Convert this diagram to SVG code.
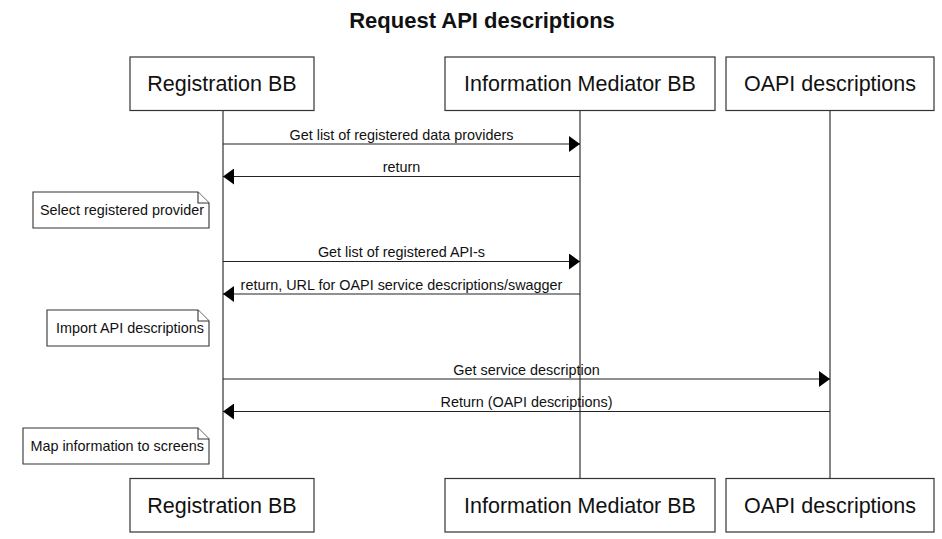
<svg xmlns="http://www.w3.org/2000/svg" width="942" height="539" viewBox="0 0 942 539">
<defs>
<style>
text{font-family:"Liberation Sans",Arial,sans-serif;fill:#111;}
.title{font-size:22px;font-weight:bold;text-anchor:middle;}
.box{fill:#fff;stroke:#333;stroke-width:1.2;}
.blabel{font-size:21.5px;text-anchor:middle;}
.life{stroke:#333;stroke-width:1.2;fill:none;}
.msg{stroke:#222;stroke-width:1.2;fill:none;}
.mlabel{font-size:14.4px;text-anchor:middle;}
.note{fill:#fff;stroke:#333;stroke-width:1.1;}
.nlabel{font-size:14.4px;text-anchor:end;}
</style>
<marker id="ah" viewBox="0 0 11 16" refX="11" refY="8" markerWidth="11" markerHeight="16" markerUnits="userSpaceOnUse" orient="auto">
<path d="M0,0 L11,8 L0,16 Z" fill="#000"/>
</marker>
</defs>
<rect width="942" height="539" fill="#fff"/>
<text class="title" x="482" y="28">Request API descriptions</text>

<g id="lifelines">
<line class="life" x1="223" y1="110.5" x2="223" y2="478.5"/>
<line class="life" x1="580" y1="110.5" x2="580" y2="478.5"/>
<line class="life" x1="830" y1="110.5" x2="830" y2="478.5"/>
</g>

<g id="registration-top">
<rect class="box" x="130" y="57" width="184" height="53.5"/>
<text class="blabel" x="222" y="91">Registration BB</text>
</g>
<g id="mediator-top">
<rect class="box" x="445" y="57" width="270" height="53.5"/>
<text class="blabel" x="580" y="91">Information Mediator BB</text>
</g>
<g id="oapi-top">
<rect class="box" x="726" y="57" width="208" height="53.5"/>
<text class="blabel" x="830" y="91">OAPI descriptions</text>
</g>

<g id="registration-bottom">
<rect class="box" x="130" y="478.5" width="184" height="53.5"/>
<text class="blabel" x="222" y="513">Registration BB</text>
</g>
<g id="mediator-bottom">
<rect class="box" x="445" y="478.5" width="270" height="53.5"/>
<text class="blabel" x="580" y="513">Information Mediator BB</text>
</g>
<g id="oapi-bottom">
<rect class="box" x="726" y="478.5" width="208" height="53.5"/>
<text class="blabel" x="830" y="513">OAPI descriptions</text>
</g>

<g id="connectors">
<line class="msg" x1="223" y1="144" x2="580" y2="144" marker-end="url(#ah)"/>
<text class="mlabel" x="401.5" y="139.5">Get list of registered data providers</text>
<line class="msg" x1="580" y1="176.5" x2="223" y2="176.5" marker-end="url(#ah)"/>
<text class="mlabel" x="401.5" y="172">return</text>
<line class="msg" x1="223" y1="261.5" x2="580" y2="261.5" marker-end="url(#ah)"/>
<text class="mlabel" x="401.5" y="257">Get list of registered API-s</text>
<line class="msg" x1="580" y1="294" x2="223" y2="294" marker-end="url(#ah)"/>
<text class="mlabel" x="401.5" y="289.5">return, URL for OAPI service descriptions/swagger</text>
<line class="msg" x1="223" y1="379" x2="830" y2="379" marker-end="url(#ah)"/>
<text class="mlabel" x="526.5" y="374.5">Get service description</text>
<line class="msg" x1="830" y1="411.5" x2="223" y2="411.5" marker-end="url(#ah)"/>
<text class="mlabel" x="526.5" y="407">Return (OAPI descriptions)</text>
</g>

<g id="note-select">
<path class="note" d="M33,192 H198 L209,203 V228 H33 Z"/>
<path class="note" d="M198,192 V203 H209"/>
<text class="nlabel" x="204" y="215">Select registered provider</text>
</g>
<g id="note-import">
<path class="note" d="M47,310 H198 L209,321 V346 H47 Z"/>
<path class="note" d="M198,310 V321 H209"/>
<text class="nlabel" x="204" y="333">Import API descriptions</text>
</g>
<g id="note-map">
<path class="note" d="M23,428 H198 L209,439 V464 H23 Z"/>
<path class="note" d="M198,428 V439 H209"/>
<text class="nlabel" x="204" y="451">Map information to screens</text>
</g>
</svg>
